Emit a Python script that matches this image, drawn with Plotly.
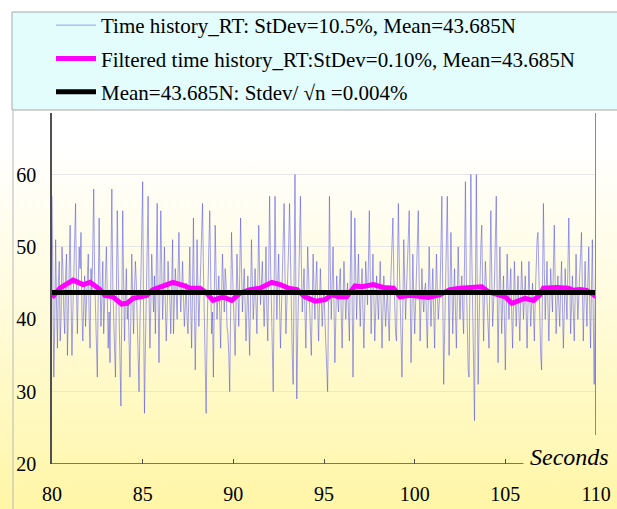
import base64
import plotly.graph_objects as go

# ---------------- data ----------------
sample_start = 80.0
sample_step = 0.05
raw_values = [
    57, 44, 32, 39, 51, 42, 36, 45, 48, 37, 40, 50, 47, 41, 38, 46, 49, 35, 41, 48,   # 80
    53, 43, 35, 41, 47, 52, 56, 44, 38, 45, 50, 47, 52, 41, 37, 42, 46, 39, 42, 47,   # 81
    49, 40, 36, 47, 44, 50, 58, 46, 40, 35, 32, 44, 54, 45, 39, 43, 48, 38, 42, 46,   # 82
    50, 43, 36, 41, 34, 47, 58, 45, 38, 36, 32, 43, 55, 47, 40, 33, 28, 42, 55, 45,   # 83
    37, 43, 47, 40, 42, 37, 32, 41, 49, 43, 38, 44, 48, 45, 41, 35, 30, 39, 47, 52,   # 84
    59, 41, 27, 36, 45, 50, 57, 44, 36, 42, 49, 45, 41, 46, 38, 47, 56, 43, 34, 44,   # 85
    55, 47, 40, 44, 50, 42, 37, 41, 48, 44, 43, 38, 46, 51, 38, 43, 47, 44, 40, 46,   # 86
    52, 45, 41, 44, 48, 43, 39, 42, 45, 40, 38, 44, 50, 42, 36, 44, 54, 42, 33, 41,   # 87
    51, 44, 39, 43, 47, 50, 56, 47, 40, 35, 27, 38, 47, 50, 55, 45, 38, 41, 32, 43,   # 88
    53, 46, 40, 43, 46, 41, 36, 43, 49, 45, 41, 47, 45, 39, 38, 35, 30, 41, 52, 47,   # 89
    44, 39, 35, 42, 49, 44, 39, 46, 54, 47, 41, 44, 47, 42, 37, 41, 46, 40, 35, 43,   # 90
    51, 45, 40, 43, 47, 42, 38, 45, 53, 46, 42, 45, 48, 43, 39, 44, 50, 41, 37, 46,   # 91
    57, 48, 42, 37, 30, 44, 57, 47, 40, 45, 49, 42, 36, 41, 47, 51, 56, 46, 38, 42,   # 92
    45, 50, 56, 47, 40, 35, 31, 45, 60, 44, 29, 38, 45, 51, 57, 48, 41, 44, 47, 41,   # 93
    36, 43, 50, 46, 42, 38, 35, 42, 49, 44, 40, 45, 48, 42, 37, 42, 47, 43, 39, 42,   # 94
    44, 40, 37, 34, 30, 43, 57, 47, 40, 45, 50, 42, 34, 40, 46, 43, 41, 45, 47, 41,   # 95
    36, 42, 48, 44, 40, 43, 45, 41, 37, 46, 55, 43, 32, 42, 54, 46, 40, 45, 49, 43,   # 96
    39, 44, 47, 41, 36, 42, 48, 45, 42, 48, 55, 46, 38, 44, 49, 43, 37, 41, 46, 43,   # 97
    40, 44, 48, 42, 36, 41, 46, 42, 39, 42, 44, 40, 37, 43, 48, 51, 54, 46, 40, 38,   # 98
    37, 46, 56, 48, 42, 37, 32, 42, 51, 45, 40, 44, 47, 51, 55, 44, 34, 41, 49, 43,   # 99
    38, 42, 46, 50, 55, 45, 37, 42, 47, 43, 41, 44, 45, 40, 36, 43, 50, 44, 39, 43,   # 100
    47, 41, 36, 43, 49, 44, 40, 42, 44, 50, 57, 43, 31, 38, 45, 51, 57, 46, 35, 44,   # 101
    52, 45, 38, 43, 47, 41, 36, 43, 50, 44, 40, 44, 46, 41, 38, 48, 59, 46, 35, 33,   # 102
    32, 47, 60, 49, 40, 33, 26, 43, 60, 45, 31, 39, 46, 50, 53, 44, 37, 43, 48, 45,   # 103
    41, 38, 36, 46, 55, 46, 39, 42, 45, 51, 57, 44, 34, 42, 50, 44, 38, 42, 46, 40,   # 104
    33, 41, 49, 44, 40, 44, 47, 41, 36, 42, 48, 43, 39, 43, 46, 41, 37, 43, 48, 44,   # 105
    40, 43, 46, 41, 36, 42, 48, 43, 39, 42, 45, 41, 37, 43, 49, 51, 52, 45, 38, 35,   # 106
    33, 44, 56, 47, 40, 44, 48, 42, 37, 42, 47, 44, 41, 47, 53, 45, 38, 42, 46, 42,   # 107
    39, 44, 48, 42, 36, 41, 47, 43, 40, 47, 54, 46, 38, 42, 46, 41, 37, 43, 49, 44,   # 108
    40, 43, 46, 49, 52, 44, 37, 43, 48, 43, 39, 45, 50, 42, 36, 44, 51, 40, 31, 42,   # 109
    53,                                                                               # 110
]
raw_time = [round(sample_start + i * sample_step, 3) for i in range(len(raw_values))]

filt_time = [80.0, 80.44, 81.16, 81.71, 82.10, 82.65, 82.92, 83.36, 83.84, 84.12,
             84.47, 85.22, 85.57, 86.12, 86.67, 87.23, 87.61, 88.16, 88.53, 88.88,
             89.43, 89.91, 90.37, 90.92, 91.47, 92.12, 92.58, 93.03, 93.50, 93.95,
             94.51, 95.06, 95.43, 95.79, 96.25, 96.71, 97.08, 97.72, 98.27, 98.83,
             99.19, 99.75, 100.30, 100.76, 101.40, 101.95, 102.50, 103.15, 103.70, 104.06,
             104.62, 104.99, 105.36, 105.72, 106.09, 106.55, 106.92, 107.10, 107.84, 108.48,
             108.76, 109.12, 109.49, 109.86, 110.0]
filt_values = [43.0, 44.3, 45.4, 44.8, 45.1, 44.1, 43.3, 43.1, 42.1, 42.2,
               42.9, 43.3, 44.1, 44.6, 45.1, 44.7, 44.3, 44.3, 43.6, 42.6,
               43.1, 42.6, 43.6, 44.1, 44.3, 45.1, 44.8, 44.3, 44.1, 43.1,
               42.5, 42.7, 43.4, 43.1, 43.1, 44.6, 44.5, 44.8, 44.4, 44.3,
               43.1, 43.3, 43.2, 43.0, 43.4, 44.1, 44.3, 44.5, 44.5, 43.8,
               43.4, 43.1, 42.2, 42.6, 42.9, 42.6, 43.4, 44.3, 44.4, 44.3,
               44.0, 44.1, 44.0, 43.4, 43.1]

mean_time = [80, 110]
mean_value = 43.685

x_ticks = [80, 85, 90, 95, 100, 105, 110]
y_ticks = [20, 30, 40, 50, 60]
x_range = [80, 110]
y_range = [20, 68.5]

name_raw = "Time history_RT: StDev=10.5%, Mean=43.685N"
name_filt = "Filtered time history_RT:StDev=0.10%, Mean=43.685N"
name_mean = "Mean=43.685N: Stdev/ \u221an =0.004%"

# ---------------- layout geometry ----------------
W, H = 617, 509
ML, MR, MT, MB = 52, 21, 113, 45
PW, PH = W - ML - MR, H - MT - MB


def px_to_paper_x(px):
    return (px - ML) / PW


def px_to_paper_y(py):
    return (H - MB - py) / PH


serif = "Liberation Serif, Times New Roman, serif"

# gradient background as inline SVG
svg = (
    '<svg xmlns="http://www.w3.org/2000/svg" width="617" height="509" '
    'preserveAspectRatio="none" viewBox="0 0 617 509">'
    '<defs><linearGradient id="g" x1="0" y1="0" x2="0" y2="1">'
    '<stop offset="0" stop-color="#ffffff"/>'
    '<stop offset="0.28" stop-color="#ffffff"/>'
    '<stop offset="0.55" stop-color="#fffce2"/>'
    '<stop offset="1" stop-color="#fff6a6"/>'
    '</linearGradient></defs>'
    '<rect x="0" y="0" width="617" height="509" fill="url(#g)"/></svg>'
)
svg_uri = "data:image/svg+xml;base64," + base64.b64encode(svg.encode()).decode()

fig = go.Figure()

fig.add_trace(go.Scatter(
    x=raw_time, y=raw_values, mode="lines", name=name_raw,
    line=dict(color="rgba(70,70,235,0.5)", width=1),
    legendgroup="a",
))
fig.add_trace(go.Scatter(
    x=filt_time, y=filt_values, mode="lines", name=name_filt,
    line=dict(color="#ff00ff", width=5),
    legendgroup="b",
))
fig.add_trace(go.Scatter(
    x=mean_time, y=[mean_value] * len(mean_time), mode="lines", name=name_mean,
    line=dict(color="#000000", width=5),
    legendgroup="c",
))

fig.update_layout(
    width=W, height=H,
    margin=dict(l=ML, r=MR, t=MT, b=MB, autoexpand=False),
    paper_bgcolor="white",
    plot_bgcolor="rgba(0,0,0,0)",
    font=dict(family=serif, size=20, color="black"),
    showlegend=True,
    legend=dict(
        x=px_to_paper_x(51), y=px_to_paper_y(5),
        xanchor="left", yanchor="top",
        bgcolor="rgba(0,0,0,0)", borderwidth=0,
        font=dict(family=serif, size=21, color="black"),
        tracegroupgap=3,
        itemwidth=40,
    ),
    images=[dict(
        source=svg_uri, xref="paper", yref="paper",
        x=px_to_paper_x(0), y=px_to_paper_y(0),
        sizex=W / PW, sizey=H / PH,
        xanchor="left", yanchor="top",
        sizing="stretch", layer="below",
    )],
    shapes=[
        # legend box
        dict(type="rect", xref="paper", yref="paper",
             x0=px_to_paper_x(12), x1=px_to_paper_x(640),
             y0=px_to_paper_y(110), y1=px_to_paper_y(12),
             fillcolor="#e3fcfc", line=dict(color="#a8a8a8", width=1), layer="below"),
        # chart frame left edge
        dict(type="line", xref="paper", yref="paper",
             x0=px_to_paper_x(13), x1=px_to_paper_x(13),
             y0=px_to_paper_y(110), y1=px_to_paper_y(509),
             line=dict(color="#b8b8b8", width=1), layer="below"),
        # x axis baseline (stops before the axis title)
        dict(type="line", xref="x", yref="y",
             x0=x_range[0], x1=106.0, y0=y_range[0], y1=y_range[0],
             line=dict(color="#505050", width=1.5), layer="above"),
        # right vertical marker at 110 s
        dict(type="line", xref="x", yref="y",
             x0=x_range[1], x1=x_range[1], y0=24, y1=y_range[1],
             line=dict(color="#8a8a8a", width=2), layer="above"),
    ],
    annotations=[dict(
        text="<i>Seconds</i>", xref="paper", yref="paper",
        x=px_to_paper_x(528), y=px_to_paper_y(457),
        xanchor="left", yanchor="middle", showarrow=False,
        font=dict(family=serif, size=24, color="black"),
    )],
)

fig.update_xaxes(
    range=x_range, tickvals=x_ticks, ticktext=[str(v) for v in x_ticks],
    showgrid=False, zeroline=False, showline=False, automargin=False,
    ticks="inside", ticklen=5, tickcolor="#505050", tickwidth=1,
    ticklabelstandoff=16,
    tickfont=dict(family=serif, size=20, color="black"),
)
fig.update_yaxes(
    range=y_range, tickvals=y_ticks, ticktext=[str(v) for v in y_ticks],
    showgrid=True, gridcolor="#e6e6e6", gridwidth=1, zeroline=False,
    showline=True, linecolor="#505050", linewidth=1.5, automargin=False,
    ticks="", ticklabelstandoff=10,
    tickfont=dict(family=serif, size=20, color="black"),
)

fig.write_html(
    "out.html",
    config={"displayModeBar": False},
    post_script="document.body.style.margin='0';document.body.style.padding='0';",
)
